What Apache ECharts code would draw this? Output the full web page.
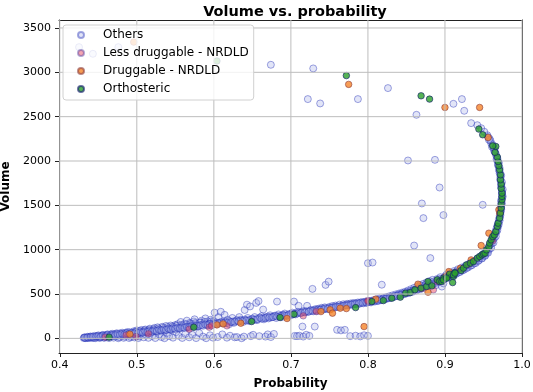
<!DOCTYPE html>
<html>
<head>
<meta charset="utf-8">
<title>Volume vs. probability</title>
<script src="https://cdn.jsdelivr.net/npm/echarts@6/dist/echarts.min.js"></script>
<style>
    html, body { margin: 0; padding: 0; background: #fff; }
    #main { width: 533px; height: 392px; }
</style>
</head>
<body>
<div id="main"></div>
<script>
// tick labels
var xTicks = [0.4, 0.5, 0.6, 0.7, 0.8, 0.9, 1.0];
var yTicks = [0, 500, 1000, 1500, 2000, 2500, 3000, 3500];

// series names (legend order)
var seriesNames = ['Others', 'Less druggable - NRDLD', 'Druggable - NRDLD', 'Orthosteric'];

// [probability, volume]
var others = [
    // 0.43 - 0.50
    [0.431,4],[0.432,12],[0.434,2],[0.435,8],[0.436,18],[0.438,3],[0.439,11],[0.44,22],[0.442,5],[0.443,14],
    [0.445,28],[0.446,2],[0.447,9],[0.449,20],[0.45,34],[0.452,4],[0.453,15],[0.455,26],[0.456,40],[0.458,6],
    [0.459,18],[0.461,32],[0.462,46],[0.464,3],[0.465,22],[0.467,38],[0.468,52],[0.47,8],[0.471,27],[0.473,44],
    [0.474,58],[0.476,2],[0.477,14],[0.479,33],[0.48,50],[0.481,64],[0.483,6],[0.484,20],[0.486,40],[0.487,57],
    [0.488,72],[0.49,4],[0.492,15],[0.493,30],[0.494,63],[0.496,80],[0.497,10],[0.499,45],[0.5,70],[0.5,90],
    // 0.50 - 0.60
    [0.502,3],[0.503,22],[0.505,55],[0.506,95],[0.508,78],[0.509,12],[0.511,100],[0.512,40],[0.514,85],[0.515,6],
    [0.517,110],[0.518,62],[0.52,28],[0.521,92],[0.523,118],[0.524,4],[0.526,75],[0.527,125],[0.529,45],[0.53,100],
    [0.532,15],[0.533,130],[0.535,88],[0.536,2],[0.538,140],[0.539,60],[0.541,112],[0.542,25],[0.544,145],[0.545,95],
    [0.547,8],[0.548,130],[0.55,150],[0.551,70],[0.553,160],[0.554,30],[0.556,118],[0.557,185],[0.559,5],[0.56,145],
    [0.562,165],[0.563,50],[0.565,200],[0.566,128],[0.568,12],[0.569,175],[0.571,150],[0.572,40],[0.574,190],[0.575,215],
    [0.577,3],[0.578,160],[0.58,135],[0.581,60],[0.583,180],[0.584,200],[0.586,20],[0.587,165],[0.589,225],[0.59,2],
    [0.592,190],[0.593,150],[0.595,35],[0.596,210],[0.598,175],[0.599,8],[0.6,195],[0.601,290],
    // 0.60 - 0.70
    [0.603,160],[0.605,15],[0.606,240],[0.608,180],[0.609,300],[0.611,45],[0.612,170],[0.614,265],[0.615,195],[0.617,8],
    [0.618,210],[0.62,160],[0.621,30],[0.623,185],[0.624,230],[0.626,175],[0.627,12],[0.629,200],[0.63,15],[0.632,190],
    [0.633,240],[0.635,210],[0.636,2],[0.638,185],[0.639,20],[0.64,320],[0.641,205],[0.643,380],[0.644,230],[0.646,195],
    [0.647,360],[0.648,25],[0.65,215],[0.651,40],[0.653,240],[0.655,400],[0.656,205],[0.658,420],[0.659,25],[0.66,230],
    [0.662,250],[0.664,325],[0.665,215],[0.667,20],[0.668,240],[0.67,45],[0.671,225],[0.673,260],[0.674,15],[0.676,240],
    [0.678,50],[0.679,255],[0.681,230],[0.682,415],[0.684,270],[0.686,250],[0.688,240],[0.69,265],[0.692,280],[0.694,255],
    [0.696,245],[0.698,275],[0.7,260],
    // 0.70 - 0.80
    [0.702,290],[0.704,415],[0.705,28],[0.706,270],[0.708,25],[0.709,300],[0.71,367],[0.711,30],[0.713,285],[0.715,133],
    [0.716,20],[0.717,310],[0.719,295],[0.72,40],[0.721,367],[0.723,300],[0.724,28],[0.726,320],[0.728,558],[0.729,305],
    [0.731,133],[0.732,330],[0.734,310],[0.736,335],[0.738,320],[0.74,345],[0.742,325],[0.744,350],[0.745,603],[0.747,330],
    [0.749,640],[0.75,355],[0.752,340],[0.754,365],[0.756,345],[0.758,370],[0.76,96],[0.761,355],[0.763,380],[0.765,90],
    [0.766,360],[0.768,385],[0.77,96],[0.771,370],[0.773,390],[0.775,375],[0.777,25],[0.778,395],[0.78,380],[0.782,400],
    [0.784,30],[0.785,385],[0.787,405],[0.789,390],[0.79,22],[0.792,410],[0.794,395],[0.795,35],[0.797,415],[0.798,400],
    [0.8,848],[0.8,28],
    // 0.80 - 0.90
    [0.802,420],[0.804,405],[0.806,855],[0.807,430],[0.809,415],[0.811,440],[0.813,420],[0.815,450],[0.817,430],[0.818,605],
    [0.82,455],[0.822,440],[0.824,465],[0.826,450],[0.828,475],[0.83,460],[0.832,485],[0.834,470],[0.836,495],[0.838,480],
    [0.84,505],[0.842,490],[0.844,515],[0.846,500],[0.848,525],[0.85,510],[0.852,540],[0.854,520],[0.856,555],[0.858,535],
    [0.86,570],[0.862,550],[0.864,585],[0.866,560],[0.868,600],[0.87,575],[0.872,615],[0.874,590],[0.876,630],[0.878,600],
    [0.88,645],[0.882,615],[0.884,660],[0.886,625],[0.888,600],[0.89,670],[0.892,640],[0.894,690],[0.896,584],[0.898,620],
    [0.9,700],
    // curve 0.90 - 0.975
    [0.902,720],[0.905,690],[0.907,740],[0.91,710],[0.912,760],[0.915,730],[0.917,780],[0.92,750],[0.922,800],[0.925,775],
    [0.927,820],[0.93,800],[0.932,845],[0.935,825],[0.937,870],[0.94,850],[0.942,895],[0.944,880],[0.946,920],[0.948,905],
    [0.95,950],[0.952,935],[0.954,980],[0.956,1000],[0.957,1030],[0.959,1060],[0.96,1090],[0.962,1120],[0.963,1150],[0.965,1180],
    [0.966,1210],[0.967,1240],[0.968,1270],[0.969,1300],[0.97,1340],[0.971,1380],[0.972,1420],[0.972,1460],[0.973,1500],[0.973,1540],
    [0.974,1580],[0.974,1620],[0.974,1660],[0.973,1700],[0.973,1740],[0.972,1780],[0.972,1820],[0.971,1860],[0.97,1900],[0.969,1950],
    [0.968,2000],[0.967,2050],[0.965,2100],[0.963,2150],[0.96,2200],[0.958,2250],[0.955,2290],[0.951,2330],[0.947,2370],[0.942,2404],
    [0.934,2427],
    // scattered above the curve
    [0.949,1506],[0.852,2006],[0.887,2013],[0.893,1701],[0.87,1521],[0.872,1356],[0.898,1390],[0.86,1047],[0.881,905],
    [0.863,2521],[0.911,2645],[0.922,2698],[0.925,2566],[0.826,2822],[0.787,2698],[0.738,2649],[0.722,2698],[0.729,3044],
    [0.674,3085],[0.425,3284],[0.443,3209],[0.476,3284]
];

// more "Others" packed along the dense band
var othersBand = [
    [0.433,6],[0.437,9],[0.441,14],[0.444,7],[0.448,24],[0.451,12],[0.454,30],[0.457,10],[0.46,36],[0.463,20],
    [0.466,44],[0.469,25],[0.472,50],[0.475,30],[0.478,56],[0.482,38],[0.485,62],[0.489,45],[0.491,68],[0.495,50],
    [0.498,76],[0.501,58],[0.504,84],[0.507,64],[0.51,92],[0.513,70],[0.516,98],[0.519,76],[0.522,105],[0.525,82],
    [0.528,112],[0.531,88],[0.534,120],[0.537,95],[0.54,128],[0.543,102],[0.546,135],[0.549,110],[0.552,142],[0.555,115],
    [0.558,150],[0.561,122],[0.564,158],[0.567,130],[0.57,165],[0.573,138],[0.576,172],[0.579,145],[0.582,178],[0.585,150],
    [0.588,185],[0.591,158],[0.594,165],[0.597,192],[0.6,170],
    [0.605,175],[0.61,185],[0.615,180],[0.62,195],[0.625,190],[0.63,205],[0.635,198],[0.64,212],[0.645,205],[0.65,222],
    [0.655,215],[0.66,235],[0.665,228],[0.67,245],[0.675,238],[0.68,255],[0.685,248],[0.69,262],[0.695,258],[0.7,272],
    [0.705,280],[0.71,290],[0.715,298],[0.72,305],[0.725,312],[0.73,320],[0.735,325],[0.74,332],[0.745,340],[0.75,345],
    [0.755,352],[0.76,360],[0.765,365],[0.77,375],[0.775,382],[0.78,390],[0.785,395],[0.79,402],[0.795,408],[0.8,410],
    [0.805,422],[0.81,430],[0.815,438],[0.82,447],[0.825,456],[0.83,468],[0.835,478],[0.84,492],[0.845,506],[0.85,520],
    [0.855,532],[0.86,548],[0.865,562],[0.87,590],[0.875,605],[0.88,625],[0.885,640],[0.89,652],[0.895,672],[0.9,685],
    [0.905,715],[0.91,735],[0.915,755],[0.92,770],[0.925,800],[0.93,820],[0.935,850],[0.94,875],[0.945,905],[0.95,935],
    [0.955,970],[0.958,1010],[0.961,1070],[0.964,1130],[0.967,1200],[0.969,1260],[0.971,1330],[0.972,1390],[0.973,1450],[0.974,1520],
    [0.975,1600],[0.975,1680],[0.974,1760],[0.973,1840],[0.971,1920],[0.97,1980],[0.968,2030],[0.966,2080],[0.964,2130],[0.962,2180],
    [0.959,2230],[0.956,2270]
];

// the dark core of the band
var othersCore = [
    [0.432,8],[0.436,12],[0.44,16],[0.443,20],[0.447,22],[0.45,26],[0.453,18],[0.456,32],[0.459,25],[0.462,38],
    [0.466,30],[0.469,42],[0.472,35],[0.475,48],[0.478,40],[0.481,52],[0.484,45],[0.487,58],[0.49,50],[0.493,62],
    [0.496,55],[0.499,68],[0.502,62],[0.505,72],[0.508,66],[0.511,78],[0.514,72],[0.517,84],[0.52,78],[0.523,90],
    [0.526,84],[0.529,96],[0.532,90],[0.535,102],[0.538,96],[0.541,108],[0.544,100],[0.547,114],[0.55,108],[0.553,120],
    [0.556,112],[0.559,126],[0.562,118],[0.565,132],[0.568,124],[0.571,138],[0.574,130],[0.577,144],[0.58,138],[0.583,150],
    [0.586,142],[0.589,156],[0.592,148],[0.595,162],[0.598,155],
    [0.602,165],[0.607,170],[0.612,176],[0.617,172],[0.622,182],[0.627,186],[0.632,192],[0.637,196],[0.642,200],[0.647,205],
    [0.652,210],[0.657,218],[0.662,222],[0.667,230],[0.672,236],[0.677,242],[0.682,246],[0.687,252],[0.692,258],[0.697,265],
    [0.703,272],[0.708,280],[0.713,288],[0.718,294],[0.723,302],[0.728,310],[0.733,316],[0.738,322],[0.743,330],[0.748,336],
    [0.753,344],[0.758,352],[0.763,358],[0.768,366],[0.773,372],[0.778,380],[0.783,386],[0.788,394],[0.793,400],[0.798,406],
    [0.803,412],[0.808,420],[0.813,428],[0.818,436],[0.823,446],[0.828,455],[0.833,465],[0.838,476],[0.843,488],[0.848,500],
    [0.853,512],[0.858,525],[0.863,540],[0.868,556],[0.873,572],[0.878,590],[0.883,606],[0.888,625],[0.893,642],[0.898,660],
    [0.903,680],[0.908,700],[0.913,722],[0.918,745],[0.923,768],[0.928,792],[0.933,818],[0.938,845],[0.943,872],[0.948,900],
    [0.952,930],[0.956,965],[0.96,1020],[0.963,1080],[0.966,1150],[0.968,1220],[0.97,1290],[0.971,1360],[0.972,1430],[0.973,1480],
    [0.973,1560],[0.974,1640],[0.973,1720],[0.972,1800],[0.971,1880],[0.969,1960],[0.967,2020],[0.964,2110],[0.961,2160],[0.957,2240]
];

var lessDruggable = [
    [0.459,14],[0.486,36],[0.499,20],[0.515,51],[0.568,104],[0.594,126],[0.597,141],[0.617,141],[0.716,254],[0.733,302],
    [0.8,415],[0.8,426],[0.87,560],[0.885,547],[0.89,640],[0.903,705],[0.91,720],[0.93,830],[0.962,1100]
];

var druggable = [
    [0.491,47],[0.604,152],[0.612,163],[0.635,171],[0.695,224],[0.739,302],[0.751,322],[0.754,284],[0.764,341],[0.772,336],
    [0.795,133],[0.81,442],[0.865,611],[0.878,521],[0.901,697],[0.905,753],[0.92,790],[0.934,885],[0.947,1047],[0.957,1186],
    [0.97,1450],[0.971,1412],[0.956,2265],[0.9,2604],[0.945,2604],[0.775,2864],[0.496,3341]
];

var orthosteric = [
    [0.464,14],[0.574,126],[0.649,190],[0.686,235],[0.704,273],[0.784,347],[0.805,415],[0.82,426],[0.831,453],[0.842,465],
    [0.849,510],[0.855,517],[0.861,547],[0.869,566],[0.876,584],[0.878,641],[0.883,592],[0.89,660],[0.893,641],[0.898,679],
    [0.903,690],[0.906,724],[0.911,697],[0.913,742],[0.91,629],
    [0.896,641],[0.898,660],[0.902,679],[0.911,716],[0.913,735],[0.921,765],[0.924,792],[0.928,829],[0.933,848],[0.937,866],
    [0.942,905],[0.945,923],[0.948,942],[0.95,953],[0.952,961],[0.954,998],[0.957,1036],[0.958,1074],[0.96,1111],[0.962,1148],
    [0.964,1167],[0.966,1205],[0.968,1261],[0.969,1299],[0.971,1356],[0.972,1412],[0.973,1469],[0.973,1517],[0.974,1562],[0.974,1600],
    [0.974,1638],[0.973,1690],[0.973,1740],[0.972,1788],[0.972,1844],[0.971,1901],[0.97,1946],[0.969,1994],[0.968,2044],[0.965,2096],
    [0.966,2164],[0.962,2171],[0.949,2296],[0.944,2360],
    [0.869,2735],[0.88,2698],[0.772,2963],[0.604,3128]
];

var font = 'DejaVu Sans';
var gridColor = '#bdbdbd';
var xMin = 0.399, xMax = 1.0;
var yMin = -165, yMax = 3590;

// grid lines at the tick values, as thin line series drawn before the points
function gridLine(name, pts) {
    return {
        name: name, type: 'line', data: pts, silent: true, clip: false,
        symbol: 'none', showSymbol: false,
        lineStyle: { color: gridColor, width: 1, opacity: 1 }
    };
}
var gridSeries = xTicks.map(function (v) { return gridLine('gx' + v, [[v, yMin], [v, yMax]]); })
    .concat(yTicks.map(function (v) { return gridLine('gy' + v, [[xMin, v], [xMax, v]]); }));

// frame: top and right spines as extra axes without ticks
function spineAxis(pos, min, max) {
    return {
        type: 'value', position: pos, min: min, max: max,
        axisLine: { show: true, onZero: false, lineStyle: { color: '#222' } },
        axisTick: { show: false }, axisLabel: { show: false }, splitLine: { show: false }
    };
}

var chart = echarts.init(document.getElementById('main'));
chart.setOption({
    animation: false,
    title: {
        text: 'Volume vs. probability',
        left: 290, top: 0, textAlign: 'center',
        textStyle: { fontFamily: font, fontSize: 14.5, fontWeight: 'bold', color: '#000' }
    },
    legend: {
        data: seriesNames,
        orient: 'vertical',
        left: 63, top: 25,
        padding: [3, 5, 4, 14],
        itemWidth: 6, itemHeight: 6, itemGap: 4,
        icon: 'circle',
        backgroundColor: 'rgba(255,255,255,0.8)',
        borderColor: '#d0d0d0', borderWidth: 1, borderRadius: 3,
        textStyle: { fontFamily: font, fontSize: 12, color: '#000', lineHeight: 14, padding: [0, 0, 0, 14] }
    },
    grid: {
        left: 59, right: 11, top: 20, bottom: 39,
        outerBoundsMode: 'none'
    },
    xAxis: [{
        type: 'value', min: xMin, max: xMax,
        name: 'Probability', nameLocation: 'middle', nameGap: 25,
        nameTextStyle: { fontFamily: font, fontSize: 12, fontWeight: 'bold', color: '#000' },
        axisLine: { onZero: false, lineStyle: { color: '#222' } },
        axisTick: { customValues: xTicks, length: 4, lineStyle: { color: '#222' } },
        axisLabel: {
            customValues: xTicks, margin: 7,
            fontFamily: font, fontSize: 11, color: '#000',
            formatter: function (v) { return v.toFixed(1); }
        },
        splitLine: { show: false }
    }, spineAxis('top', xMin, xMax)],
    yAxis: [{
        type: 'value', min: yMin, max: yMax,
        name: 'Volume', nameLocation: 'middle', nameGap: 43, nameRotate: 90,
        nameTextStyle: { fontFamily: font, fontSize: 12, fontWeight: 'bold', color: '#000' },
        axisLine: { show: true, onZero: false, lineStyle: { color: '#222' } },
        axisTick: { show: true, customValues: yTicks, length: 4, lineStyle: { color: '#222' } },
        axisLabel: {
            customValues: yTicks, margin: 8, fontFamily: font, fontSize: 11, color: '#000',
            formatter: function (v) { return String(v); }
        },
        splitLine: { show: false }
    }, spineAxis('right', yMin, yMax)],
    series: gridSeries.concat([
        {
            name: seriesNames[0], type: 'scatter', data: others.concat(othersBand, othersCore), symbolSize: 7,
            itemStyle: { color: 'rgba(160,170,228,0.38)', borderColor: 'rgba(30,40,180,0.52)', borderWidth: 1 }
        },
        {
            name: seriesNames[1], type: 'scatter', data: lessDruggable, symbolSize: 6.5,
            itemStyle: { color: 'rgba(232,70,90,0.6)', borderColor: 'rgba(60,40,150,0.5)', borderWidth: 1 }
        },
        {
            name: seriesNames[2], type: 'scatter', data: druggable, symbolSize: 6.5,
            itemStyle: { color: '#f5842a', borderColor: 'rgba(140,60,60,0.75)', borderWidth: 1 }
        },
        {
            name: seriesNames[3], type: 'scatter', data: orthosteric, symbolSize: 6.5,
            itemStyle: { color: '#2ca02c', borderColor: 'rgba(20,30,110,0.8)', borderWidth: 1 }
        }
    ])
});
</script>
</body>
</html>
